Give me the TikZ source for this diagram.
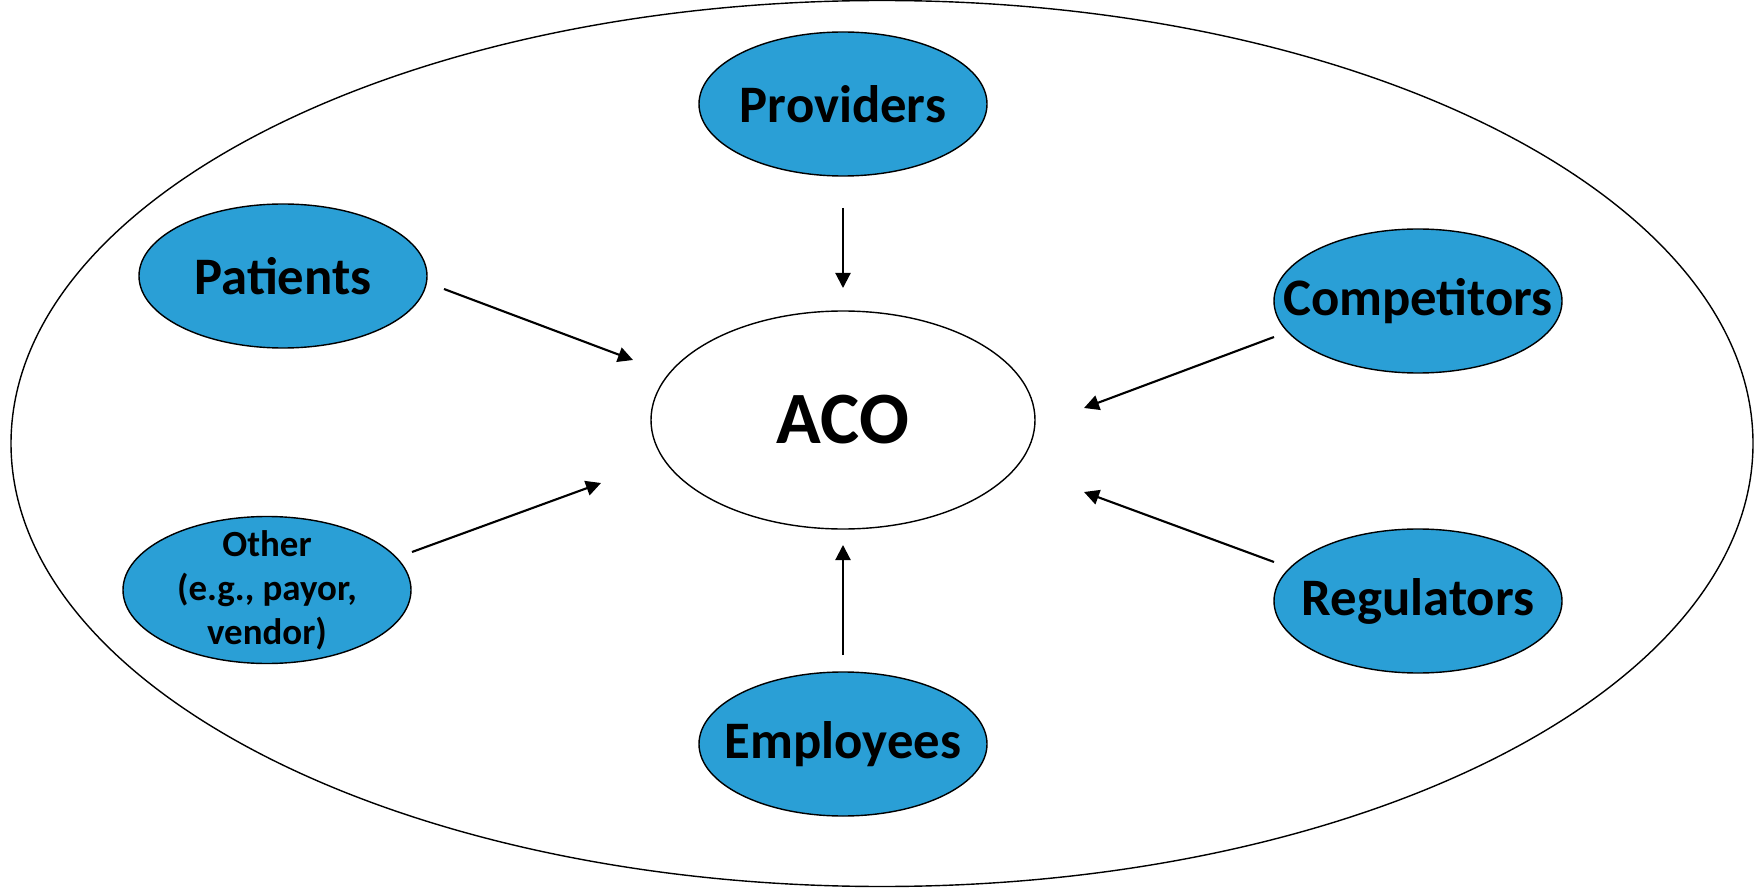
\documentclass[tikz,border=0pt]{standalone}
\usepackage{fontspec}
\setmainfont{Carlito}
\usepackage{tikz}
\usetikzlibrary{positioning,shapes.geometric,arrows.meta}
\definecolor{partyblue}{RGB}{42,159,214}

\begin{document}
\begin{tikzpicture}[node distance = 2cm, on grid, party/.style={ellipse, draw, line width=0.8pt, fill=partyblue, minimum width=5.76cm, minimum height=2.88cm, inner xsep=-0.8cm, inner ysep=-0.6cm, align=center, font=\bfseries\fontsize{30}{36}\selectfont}, infl/.style={-{Triangle[length=0.3cm,width=0.3cm]}, line width=1.2pt}]
	\useasboundingbox (0,0) rectangle (35.24,17.74);
	\node[ellipse, draw, line width=0.8pt, minimum width=34.84cm, minimum height=17.72cm](env) at (17.64,8.87){};
	
	\node[ellipse, draw, line width=0.8pt, fill=white, minimum width=7.68cm, minimum height=4.36cm, inner sep=0pt, font=\bfseries\fontsize{42}{50}\selectfont](aco) at (16.86,9.34){ACO};
	\node[party, above = 6.32cm of aco](prov){Providers};
	\node[party, above left = 2.88cm and 11.2cm of aco](pat){Patients};
	\node[party, above right = 2.38cm and 11.5cm of aco](comp){Competitors};
	\node[party, below right = 3.62cm and 11.5cm of aco](reg){Regulators};
	\node[party, below left = 3.40cm and 11.52cm of aco, minimum height=2.94cm, font=\bfseries\fontsize{21}{25}\selectfont](oth){Other\\(e.g., payor,\\vendor)};
	\node[party, below = 6.48cm of aco](emp){Employees};
	
	\coordinate (prov-a) at (16.86,13.58);
	\coordinate (prov-b) at (16.86,11.98);
	\coordinate (pat-a) at (8.88,11.96);
	\coordinate (pat-b) at (12.66,10.54);
	\coordinate (oth-a) at (8.24,6.70);
	\coordinate (oth-b) at (12.02,8.08);
	\coordinate (emp-a) at (16.86,4.64);
	\coordinate (emp-b) at (16.86,6.84);
	\coordinate (comp-a) at (25.48,11.00);
	\coordinate (comp-b) at (21.68,9.58);
	\coordinate (reg-a) at (25.48,6.50);
	\coordinate (reg-b) at (21.68,7.90);
	
	\draw[infl] (prov-a) -- (prov-b);
	\draw[infl] (pat-a) -- (pat-b);
	\draw[infl] (oth-a) -- (oth-b);
	\draw[infl] (emp-a) -- (emp-b);
	\draw[infl] (comp-a) -- (comp-b);
	\draw[infl] (reg-a) -- (reg-b);
\end{tikzpicture}
\end{document}
